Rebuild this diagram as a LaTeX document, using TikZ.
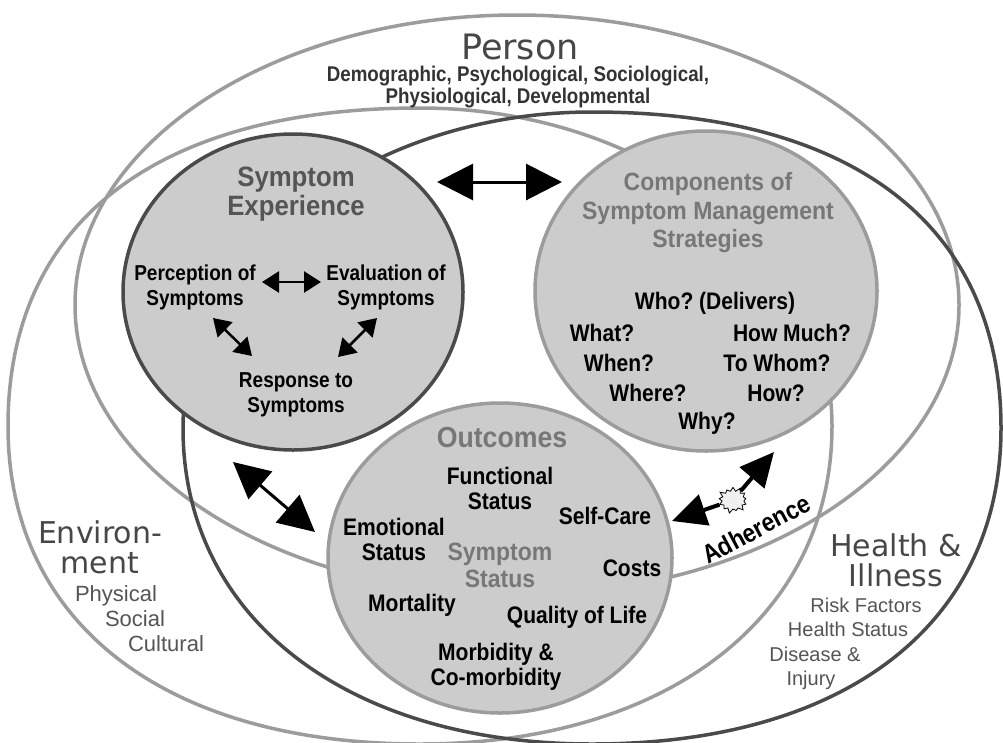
\documentclass[tikz,border=0pt]{standalone}
\usepackage{fontspec}
\setmainfont{Liberation Sans}
\newfontfamily\headfont{DejaVu Sans}
\newfontfamily\narrowfont[FakeStretch=0.88]{Liberation Sans}
\newfontfamily\titlenarrow[FakeStretch=0.92]{Liberation Sans}
\usetikzlibrary{shapes.geometric,shapes.symbols,arrows.meta}
\usepackage{xcolor}
\definecolor{ringlight}{HTML}{9C9C9C}
\definecolor{ringdark}{HTML}{4A4A4A}
\definecolor{bubblefill}{HTML}{CCCCCC}
\definecolor{inkdark}{HTML}{333333}
\definecolor{inkmid}{HTML}{555555}
\definecolor{inklight}{HTML}{777777}

\begin{document}
\frenchspacing
\begin{tikzpicture}[x=1pt, y=-1pt,
        bigoval/.style={
            ellipse, inner sep=0pt,
            line width=3.5pt % the three outer rings
        },
        ring/.style={line width=3.5pt},
        bubble/.style={
            ellipse, inner sep=0pt,
            fill=bubblefill,
            line width=3.5pt
        },
        headtxt/.style={font=\headfont\fontsize{30}{30}\selectfont, text=inkdark!90, align=center},
        heading/.style={font=\titlenarrow\bfseries\fontsize{25}{28.5}\selectfont, text=inklight, align=center},
        item/.style={font=\narrowfont\bfseries\fontsize{23.9}{25}\selectfont, align=center},
        smallitem/.style={font=\narrowfont\bfseries\fontsize{21.6}{25}\selectfont, align=center},
        factor/.style={font=\fontsize{20}{22}\selectfont, text=inkmid},
        bigdbl/.style={{Triangle[length=36pt,width=36pt]}-{Triangle[length=36pt,width=36pt]}, line width=3pt},
        smalldbl/.style={{Triangle[length=17pt,width=21pt]}-{Triangle[length=17pt,width=21pt]}, line width=2.5pt},
        adharrow/.style={-{Triangle[length=34pt,width=32pt]}, line width=4pt}
    ]

\path[use as bounding box, fill=white] (0,0) rectangle (1003,742);

% outer rings
\node[bigoval, draw=ringlight, minimum width=884pt, minimum height=580pt] (person) at (517,305) {};
% environment ring (a bit squarer than an ellipse)
\draw[ring, ringlight] (420,108) .. controls (646.6,108) and (832,251.1) .. (832,426)
    .. controls (832,616.8) and (667.2,744) .. (420,744)
    .. controls (164.6,744) and (8,623.2) .. (8,426)
    .. controls (8,222.5) and (156.3,108) .. (420,108) -- cycle;
% health and illness ring
\draw[ring, ringdark] (592,112) .. controls (853.8,112) and (1001,225.8) .. (1001,428)
    .. controls (1001,623.9) and (845.6,744) .. (592,744)
    .. controls (346.6,744) and (183,617.6) .. (183,428)
    .. controls (183,254.2) and (367,112) .. (592,112) -- cycle;

% the three concepts
\node[bubble, draw=ringdark, minimum width=340pt, minimum height=316pt] (experience) at (293,292) {};
\node[bubble, draw=ringlight, minimum width=342pt, minimum height=320pt] (strategies) at (706,291) {};
\node[bubble, draw=ringlight, minimum width=344pt, minimum height=310pt] (outcomes) at (500,558) {};

% person
\node[headtxt, font=\headfont\fontsize{35}{40}\selectfont] (persontitle) at (520,47) {Person};
\node[factor, text=inkdark, align=center, font=\narrowfont\bfseries\fontsize{21.3}{22}\selectfont] (persondims) at (518,87)
    {Demographic, Psychological, Sociological,\\Physiological, Developmental};

% environment
\node[headtxt] (envtitle) at (100,547) {Environ-\\ment};
\node[factor, font=\fontsize{22}{22}\selectfont] (physical) at (116,596) {Physical};
\node[factor, font=\fontsize{22}{22}\selectfont] (social) at (135,619) {Social};
\node[factor, font=\fontsize{22}{22}\selectfont] (cultural) at (166,644) {Cultural};

% health and illness
\node[headtxt] (healthtitle) at (896,560) {Health \&\\Illness};
\node[factor] (risk) at (866,605) {Risk Factors};
\node[factor] (hstatus) at (848,629) {Health Status};
\node[factor] (disease) at (815,654) {Disease \&};
\node[factor] (injury) at (811,680) {Injury};

% symptom experience
\node[heading, text=inkmid, font=\titlenarrow\bfseries\fontsize{28}{29}\selectfont] (exptitle) at (296,194) {Symptom\\Experience};
\node[smallitem] (perception) at (195,287) {Perception of\\Symptoms};
\node[smallitem] (evaluation) at (386,287) {Evaluation of\\Symptoms};
\node[smallitem] (response) at (296,395) {Response to\\Symptoms};

\coordinate (perR) at (262,282);
\coordinate (evaL) at (321,282);
\coordinate (perB) at (213,318);
\coordinate (resL) at (252,356);
\coordinate (evaB) at (377,318);
\coordinate (resR) at (338,357);
\draw[smalldbl] (perR) -- (evaL);
\draw[smalldbl] (perB) -- (resL);
\draw[smalldbl] (evaB) -- (resR);

% management strategies
\node[heading] (strtitle) at (708,213) {Components of\\Symptom Management\\Strategies};
\node[item] (who) at (715,303) {Who? (Delivers)};
\node[item] (what) at (602,333) {What?};
\node[item] (howmuch) at (792,333) {How Much?};
\node[item] (when) at (619,363) {When?};
\node[item] (towhom) at (777,363) {To Whom?};
\node[item] (where) at (648,393) {Where?};
\node[item] (how) at (776,393) {How?};
\node[item] (why) at (707,423) {Why?};

% outcomes
\node[heading, font=\titlenarrow\bfseries\fontsize{29}{30}\selectfont] (outtitle) at (502,438) {Outcomes};
\node[item] (functional) at (500,488) {Functional\\Status};
\node[item] (selfcare) at (605,516) {Self-Care};
\node[item] (emotional) at (394,539) {Emotional\\Status};
\node[heading, font=\titlenarrow\bfseries\fontsize{25}{27}\selectfont] (sympstatus) at (500,565) {Symptom\\Status};
\node[item] (costs) at (632,568) {Costs};
\node[item] (mortality) at (412,605) {Mortality};
\node[item] (quality) at (577,617) {Quality of Life};
\node[item] (morbidity) at (496,667) {Morbidity \&\\Co-morbidity};

% links between the concepts
\coordinate (expR) at (437,182);
\coordinate (strL) at (562,182);
\coordinate (expB) at (233,462);
\coordinate (outL) at (315,532);
\draw[bigdbl] (expR) -- (strL);
\draw[bigdbl] (expB) -- (outL);

% adherence
\node[starburst, draw, fill=gray!12, line width=0.8pt, minimum width=32pt, minimum height=28pt,
      starburst points=13, starburst point height=5pt, inner sep=0pt] (burst) at (733,500) {};
\coordinate (adhlo) at (672,521);
\coordinate (adhhi) at (774,452);
\draw[adharrow] (burst) -- (adhlo);
\draw[adharrow] (burst) -- (adhhi);
\node[item, font=\narrowfont\bfseries\fontsize{26}{26}\selectfont, rotate=28, inner sep=0pt] (adherence) at (756,529) {Adherence};

\end{tikzpicture}
\end{document}
